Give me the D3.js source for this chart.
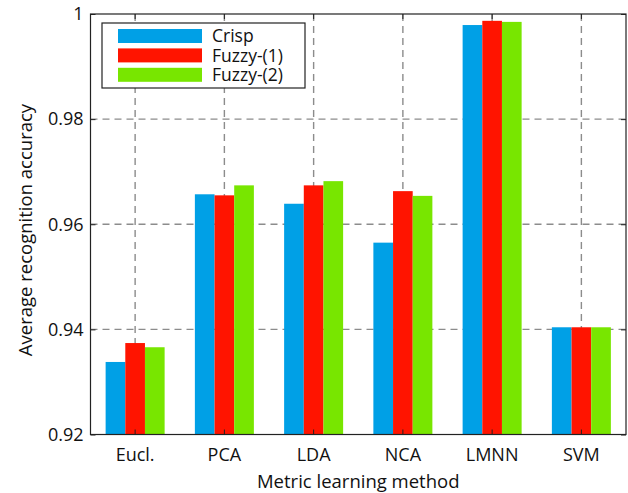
<!DOCTYPE html>
<html>
<head>
<meta charset="utf-8">
<script src="https://cdn.jsdelivr.net/npm/d3@7"></script>
<style>
  body { margin: 0; background: #fff; }
  svg text { font-family: "Open Sans", sans-serif; fill: #111; }
</style>
</head>
<body>
<svg id="chart" width="628" height="493"></svg>
<script>
// data
const methods = ["Eucl.", "PCA", "LDA", "NCA", "LMNN", "SVM"];
const seriesNames = ["Crisp", "Fuzzy-(1)", "Fuzzy-(2)"];
const crisp  = [0.9338, 0.9657, 0.9639, 0.9565, 0.9979, 0.9404];
const fuzzy1 = [0.9374, 0.9655, 0.9674, 0.9663, 0.9987, 0.9404];
const fuzzy2 = [0.9366, 0.9674, 0.9682, 0.9654, 0.9985, 0.9404];
const yTicks = [0.92, 0.94, 0.96, 0.98, 1];
const colors = ["#00A0E6", "#FF1400", "#78E600"];

const allSeries = [crisp, fuzzy1, fuzzy2];

const svg = d3.select("#chart");
const pLeft = 90.5, pRight = 626, pTop = 14, pBottom = 434.5;

const x = d3.scaleBand().domain(methods).range([pLeft, pRight]).padding(0);
const xs = d3.scaleBand().domain(seriesNames).range([-29.5, 29.5]);
const y = d3.scaleLinear().domain([0.92, 1]).range([pBottom, pTop]);

// dashed grid
const grid = svg.append("g")
  .attr("stroke", "#8c8c8c")
  .attr("stroke-width", 1.4)
  .attr("stroke-dasharray", "7,5");
grid.selectAll("line.v")
  .data(methods)
  .enter()
  .append("line")
  .attr("x1", d => x(d) + x.bandwidth() / 2)
  .attr("x2", d => x(d) + x.bandwidth() / 2)
  .attr("y1", pTop)
  .attr("y2", pBottom);
grid.selectAll("line.h")
  .data(yTicks.slice(1, -1))
  .enter()
  .append("line")
  .attr("x1", pLeft)
  .attr("x2", pRight)
  .attr("y1", d => y(d))
  .attr("y2", d => y(d));

// bars
methods.forEach((m, i) => {
  const g = svg.append("g")
    .attr("transform", "translate(" + (x(m) + x.bandwidth() / 2) + ",0)");
  g.selectAll("rect")
    .data(seriesNames)
    .enter()
    .append("rect")
    .attr("x", d => xs(d))
    .attr("width", xs.bandwidth())
    .attr("y", (d, j) => y(allSeries[j][i]))
    .attr("height", (d, j) => pBottom - y(allSeries[j][i]))
    .attr("fill", (d, j) => colors[j]);
});

// axes (box with inside ticks)
const tl = 5;
const axL = svg.append("g").attr("transform", "translate(" + pLeft + ",0)")
  .call(d3.axisLeft(y).tickValues(yTicks).tickFormat(d => d === 1 ? "1" : d3.format(".2f")(d)).tickSize(-tl).tickPadding(7));
const axR = svg.append("g").attr("transform", "translate(" + pRight + ",0)")
  .call(d3.axisRight(y).tickValues(yTicks).tickSize(-tl).tickFormat(""));
const axB = svg.append("g").attr("transform", "translate(0," + pBottom + ")")
  .call(d3.axisBottom(x).tickSize(-tl).tickPadding(14));
const axT = svg.append("g").attr("transform", "translate(0," + pTop + ")")
  .call(d3.axisTop(x).tickSize(-tl).tickFormat(""));

[axL, axR, axB, axT].forEach(a => {
  a.select(".domain").remove();
  a.selectAll("line").attr("stroke", "#222").attr("stroke-width", 1);
  a.selectAll("text").attr("font-size", 18).attr("font-family", "Open Sans").attr("fill", "#111");
});

svg.append("rect")
  .attr("x", pLeft).attr("y", pTop)
  .attr("width", pRight - pLeft).attr("height", pBottom - pTop)
  .attr("fill", "none").attr("stroke", "#222").attr("stroke-width", 1.2);

// axis titles
svg.append("text")
  .attr("x", (pLeft + pRight) / 2)
  .attr("y", 487.5)
  .attr("text-anchor", "middle")
  .attr("font-size", 18.5)
  .text("Metric learning method");

svg.append("text")
  .attr("transform", "translate(32,230) rotate(-90)")
  .attr("text-anchor", "middle")
  .attr("font-size", 18.5)
  .text("Average recognition accuracy");

// legend
const lg = svg.append("g").attr("transform", "translate(102,23)");
lg.append("rect")
  .attr("width", 203).attr("height", 65)
  .attr("fill", "#fff").attr("stroke", "#222").attr("stroke-width", 1.2);
const items = lg.selectAll("g.item")
  .data(seriesNames)
  .enter()
  .append("g")
  .attr("transform", (d, i) => "translate(16," + (6 + i * 19.4) + ")");
items.append("rect")
  .attr("width", 84).attr("height", 14)
  .attr("fill", (d, i) => colors[i]);
items.append("text")
  .attr("x", 94).attr("y", 7)
  .attr("dy", "0.35em")
  .attr("font-size", 17.5)
  .text(d => d);
</script>
</body>
</html>
